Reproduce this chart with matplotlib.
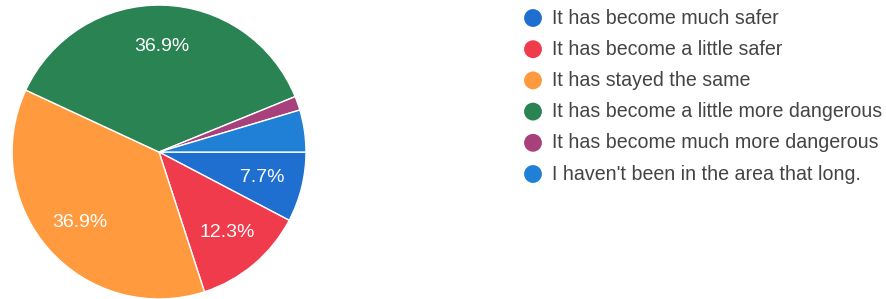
import matplotlib.pyplot as plt

# survey answers (65 responses)
labels = [
    "It has become much safer",
    "It has become a little safer",
    "It has stayed the same",
    "It has become a little more dangerous",
    "It has become much more dangerous",
    "I haven't been in the area that long.",
]
counts = [5, 8, 24, 24, 1, 3]
colors = ["#1f6fd0", "#f03b4c", "#ff9a3f", "#2a8352", "#a8407c", "#1f80d6"]

plt.rcParams['font.family'] = ['Liberation Sans', 'DejaVu Sans']

fig = plt.figure(figsize=(8.86, 2.99), dpi=100)
fig.patch.set_facecolor('white')

ax = fig.add_axes([0.0135, 0.0, 0.332, 0.983])


def pct_label(p):
    return f"{p:.1f}%" if p >= 5 else ""


wedges, texts, autotexts = ax.pie(
    counts, colors=colors, startangle=0, counterclock=False,
    autopct=pct_label, pctdistance=0.72,
    wedgeprops=dict(edgecolor='white', linewidth=1.0),
    textprops=dict(color='white', fontsize=14),
)
ax.set_xlim(-1, 1)
ax.set_ylim(-1, 1)
ax.set_aspect('equal')

# legend drawn by hand so the rows sit like the original
leg = fig.add_axes([0, 0, 1, 1])
leg.set_xlim(0, 886)
leg.set_ylim(299, 0)
leg.axis('off')
for i, (lab, col) in enumerate(zip(labels, colors)):
    y = 18 + 31.2 * i
    leg.scatter(533, y, s=165, color=col, edgecolors='none')
    leg.text(552, y, lab, va='center', ha='left', fontsize=14.1, color='#444444')

fig.savefig('out.png', dpi=100)
